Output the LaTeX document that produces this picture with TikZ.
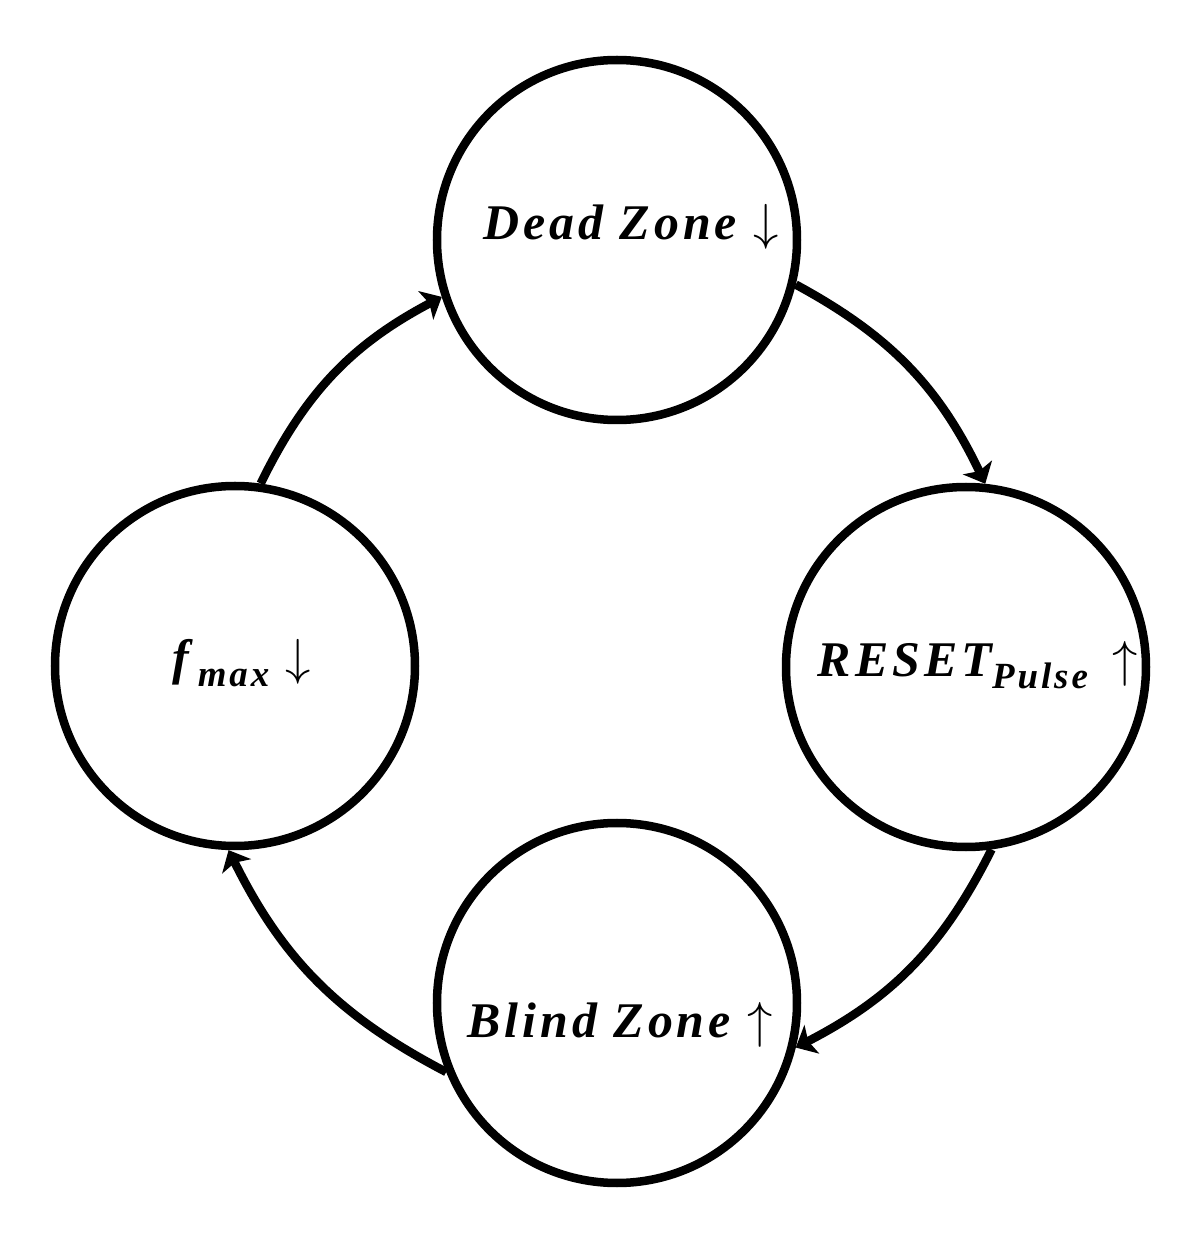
\documentclass[tikz,border=0pt]{standalone}
\usepackage{fontspec}
\usetikzlibrary{arrows.meta}
\newfontfamily\lblfont{Liberation Serif}[LetterSpace=8]
\newcommand\lblsub[1]{\raisebox{-0.24em}{\fontsize{10.5}{11}\selectfont #1}}
\begin{document}
\begin{tikzpicture}[line width=0.085cm,
        state/.style={draw, circle, minimum size=3.6cm, inner sep=0pt},
        trans/.style={-{Stealth[length=0.18cm,width=0.32cm,inset=0.04cm]}}]
                \useasboundingbox (0,0) rectangle (12.02,12.43);
                \tikzstyle{every node}+=[font=\fontsize{14.2}{16}\selectfont\lblfont\bfseries\itshape]
                % states
                \node [state] (dead) at (6.17,10.03) {};
                \node [state] (reset) at (9.66,5.76) {};
                \node [state] (blind) at (6.17,2.40) {};
                \node [state] (fmax) at (2.35,5.77) {};
                % labels
                \node [anchor=base] (deadtxt) at (6.31,10.03) {Dead Zone\ $\downarrow$};
                \node [anchor=base] (resettxt) at (9.78,5.66) {RESET\lblsub{Pulse}\ \,$\uparrow$};
                \node [anchor=base] (blindtxt) at (6.20,2.06) {Blind Zone\ $\uparrow$};
                \node [anchor=base] (fmaxtxt) at (2.42,5.68) {f\,\lblsub{max}\ $\downarrow$};
                % transitions
                \draw [trans] (fmax.82) to [bend left=18] (dead.198);
                \draw [trans] (dead.-14) to [bend left=18] (reset.84);
                \draw [trans] (reset.-82) to [bend left=18] (blind.-14);
                \draw [trans] (blind.202) to [bend left=18] (fmax.-92);
            \end{tikzpicture}
\end{document}
